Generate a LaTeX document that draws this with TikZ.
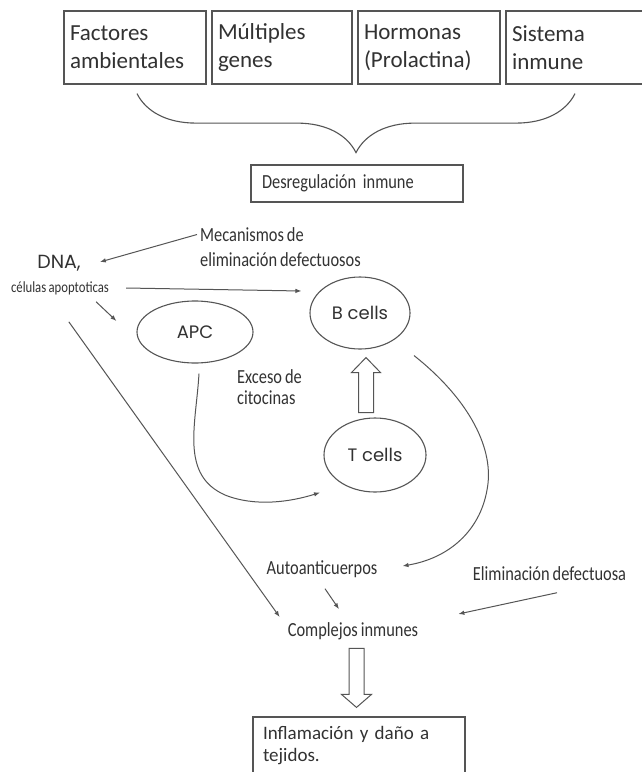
\documentclass[tikz,border=0pt]{standalone}
\usepackage{fontspec}
\setmainfont{Carlito}
\newfontfamily\condfont[FakeStretch=0.82, WordSpace=0.8]{Carlito}
\newfontfamily\geofont{Poppins}
\usetikzlibrary{arrows.meta, positioning, calc, shapes.geometric, decorations.pathreplacing}
\definecolor{inkgray}{RGB}{50,50,50}
\definecolor{linegray}{RGB}{85,85,85}

\begin{document}
\begin{tikzpicture}[x=1pt, y=-1pt,
  topbox/.style={draw=linegray, line width=1.2pt, minimum height=73pt, inner xsep=6pt, align=left, text=inkgray, font=\fontsize{23}{28}\selectfont},
  cell/.style={draw=linegray, ellipse, line width=1.1pt, inner sep=0pt, text=inkgray, font=\geofont\fontsize{18}{20}\selectfont},
  note/.style={inner sep=0pt, align=left, text=inkgray, font=\condfont\fontsize{20}{25}\selectfont},
  conn/.style={draw=linegray, line width=1pt, -{Latex[length=6pt,width=4.5pt]}},
  fat/.style={draw=linegray, line width=1pt, fill=white}]

  \path[use as bounding box, fill=white] (0,0) rectangle (642,772);

  % causas
  \node[topbox, text width=130pt] (amb) at (135,47.5) {Factores\\ambientales};
  \node[topbox, text width=128pt, right=4.8pt of amb] (mul) {Múltiples\\genes};
  \node[topbox, text width=130pt, right=4.8pt of mul] (hor) {Hormonas\\(Prolactina)};
  \node[topbox, text width=129pt, right=4.8pt of hor] (inm) {Sistema\\inmune};

  \node[draw=linegray, line width=1.2pt, text width=190pt, inner xsep=11pt, minimum height=37pt, align=left, text=inkgray, font=\condfont\fontsize{20}{24}\selectfont] (des) at (357,183.5) {Desregulación inmune};

  \draw[linegray, line width=1.1pt, decorate, decoration={brace, mirror, amplitude=59pt}]
    ($(amb.south)+(2,9)$) -- ($(inm.south)+(-1.5,9)$);

  % celulas
  \node[cell, minimum width=116pt, minimum height=62pt] (apc) at (195,332) {APC};
  \node[cell, minimum width=100pt, minimum height=72pt] (bcell) at (360,313) {B cells};
  \node[cell, minimum width=102pt, minimum height=74pt] (tcell) at (375,455) {T cells};

  \node[inner sep=0pt, text=inkgray, font=\geofont\fontsize{19}{20}\selectfont] (dna) at (59,263) {DNA,};
  \node[note, font=\condfont\fontsize{15.5}{18}\selectfont] (cel) at (60,288) {células apoptoticas};
  \node[note, anchor=west] (mec) at (200,247.5) {Mecanismos de\\eliminación defectuosos};
  \node[note, anchor=west, font=\condfont\fontsize{20}{21}\selectfont] (exc) at (237,387.5) {Exceso de\\citocinas};
  \node[note] (auto) at (322,569) {Autoanticuerpos};
  \node[note] (elim) at (549.5,574) {Eliminación defectuosa};
  \node[note] (comp) at (353,631) {Complejos inmunes};

  \node[draw=linegray, line width=1.2pt, text width=192pt, inner xsep=10pt, minimum height=58pt, align=left, text=inkgray, font=\fontsize{19}{22}\selectfont] (inf) at (359,746) {Inflamación y daño a\\tejidos.};

  % flechas
  \draw[conn] ($(mec.west)+(-3,-13)$) -- ($(dna.east)+(19,-1)$);
  \draw[conn] ($(cel.east)+(17,0)$) -- ($(bcell.west)+(-8,-22)$);
  \draw[conn] ($(cel.south east)+(-13,7)$) -- ($(apc.west)+(-20,-11)$);
  \draw[conn] ($(cel.south west)+(58,27)$) -- ($(comp.west)+(-8,-14)$);

  \draw[conn] ($(apc.south)+(4,10)$) .. controls (196,425) and (180,475) .. (225,495)
    .. controls (255,507) and (290,502) .. ($(tcell.south)+(-55,0)$);
  \draw[conn] ($(bcell.south)+(54,6)$) .. controls (470,400) and (495,450) .. (487,490)
    .. controls (480,530) and (450,558) .. ($(auto.east)+(25,-3)$);

  \draw[conn] ($(auto.south)+(3,11)$) -- ($(comp.north)+(-14,-13)$);
  \draw[conn] ($(elim.south)+(7.5,11.5)$) -- ($(comp.east)+(40,-17)$);

  % flechas huecas
  \draw[fat] ($(bcell.south)+(6,8)$) -- ++(14.5,15) -- ++(-7,0) -- ++(0,40)
    -- ++(-15,0) -- ++(0,-40) -- ++(-7,0) -- cycle;
  \draw[fat] ($(inf.north)+(-2.5,-9)$) -- ++(-15,-13) -- ++(7.5,0) -- ++(0,-46)
    -- ++(15,0) -- ++(0,46) -- ++(7.5,0) -- cycle;
\end{tikzpicture}
\end{document}
